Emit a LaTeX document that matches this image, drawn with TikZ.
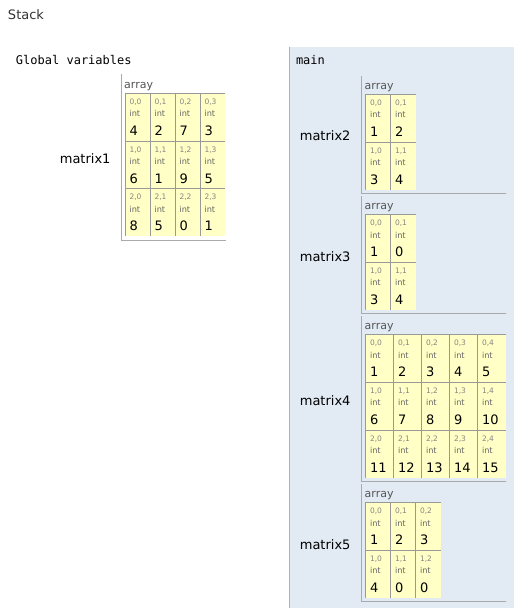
\documentclass[tikz,border=0pt]{standalone}
\usepackage{fontspec}
\setmainfont{DejaVu Sans}
\setmonofont{DejaVu Sans Mono}
\definecolor{mainbg}{HTML}{E2EAF4}
\definecolor{mainborder}{HTML}{A6B3B6}
\definecolor{framegray}{HTML}{AAAAAA}
\definecolor{cellyellow}{HTML}{FFFFC6}
\definecolor{cellgray}{HTML}{999999}
\definecolor{idxgray}{HTML}{858585}
\definecolor{typegray}{HTML}{666666}
\definecolor{arrgray}{HTML}{555555}
\definecolor{headgray}{HTML}{333333}
\newcommand{\matrowh}{47.7}
\tikzset{
  txt/.style={inner sep=0pt, outer sep=0pt},
  idxtext/.style={txt, anchor=base west, text=idxgray, font=\fontsize{7.5}{9}\selectfont},
  typetext/.style={txt, anchor=base west, text=typegray, font=\fontsize{8.2}{10}\selectfont},
  valtext/.style={txt, anchor=base west, text=black, font=\fontsize{13}{15}\selectfont},
  arrtext/.style={txt, anchor=base west, text=arrgray, font=\fontsize{11}{13}\selectfont},
  varname/.style={txt, anchor=base east, text=black, font=\fontsize{13}{15}\selectfont},
  frametitle/.style={txt, anchor=base west, text=black, font=\ttfamily\fontsize{12}{14}\selectfont},
  headtext/.style={txt, anchor=base west, text=headgray, font=\fontsize{13}{15}\selectfont},
  cellline/.style={draw=cellgray, line width=1pt},
  frameline/.style={draw=framegray, line width=1pt},
}
% #1 name, #2 cells left, #3 cells top, #4 column width, #5 ncols, #6 nrows, #7 rows
\newcommand{\arraymatrix}[7]{%
  \fill[cellyellow] (#2,#3) rectangle ++(#5*#4, #6*\matrowh);
  \node[arrtext] (#1-array) at (#2-0.8,#3-5) {array};
  \foreach \rowvals [count=\ri from 0] in {#7} {
    \foreach \val [count=\ci from 0] in \rowvals {
      \pgfmathsetmacro\cellx{#2+\ci*#4}
      \pgfmathsetmacro\celly{#3+\ri*\matrowh}
      \draw[cellline] (\cellx,\celly+\matrowh) -- (\cellx,\celly) -- (\cellx+#4,\celly);
      \node[idxtext] (#1-\ri-\ci-idx) at (\cellx+4.5,\celly+11) {\ri,\ci};
      \node[typetext] (#1-\ri-\ci-type) at (\cellx+4.5,\celly+23.5) {int};
      \node[valtext] (#1-\ri-\ci-val) at (\cellx+4.5,\celly+42) {\val};
    }
  }
}
\begin{document}
\begin{tikzpicture}[x=1pt,y=-1pt]
\useasboundingbox (0,0) rectangle (520,614);
\fill[white] (0,0) rectangle (520,614);
% headers
\node[headtext] (stack) at (8,19) {Stack};
\node[frametitle] (global) at (16,64) {Global variables};
% main frame background
\fill[mainbg] (289,46.7) rectangle (514,608);
\draw[mainborder, line width=1pt] (289.5,46.7) -- (289.5,608);
\node[frametitle] (main) at (296,64.5) {main};
% matrix1 (global)
\draw[frameline] (121.5,74) -- (121.5,240.3) -- (225.5,240.3);
\arraymatrix{m1}{125}{93.3}{25}{4}{3}{{4,2,7,3},{6,1,9,5},{8,5,0,1}}
\node[varname] (m1name) at (110.5,163.3) {matrix1};
% matrix2
\draw[frameline] (361.7,76) -- (361.7,193.5) -- (506,193.5);
\arraymatrix{m2}{365.5}{94.3}{25}{2}{2}{{1,2},{3,4}}
\node[varname] (m2name) at (350.5,140.8) {matrix2};
% matrix3
\draw[frameline] (361.7,196.2) -- (361.7,313.7) -- (506,313.7);
\arraymatrix{m3}{365.5}{214.5}{25}{2}{2}{{1,0},{3,4}}
\node[varname] (m3name) at (350.5,261) {matrix3};
% matrix4
\draw[frameline] (361.7,316.4) -- (361.7,481.6) -- (506,481.6);
\arraymatrix{m4}{365.5}{334.7}{28}{5}{3}{{1,2,3,4,5},{6,7,8,9,10},{11,12,13,14,15}}
\node[varname] (m4name) at (350.5,405) {matrix4};
% matrix5
\draw[frameline] (361.7,484.3) -- (361.7,601.8) -- (506,601.8);
\arraymatrix{m5}{365.5}{502.6}{25}{3}{2}{{1,2,3},{4,0,0}}
\node[varname] (m5name) at (350.5,549) {matrix5};
\end{tikzpicture}
\end{document}
